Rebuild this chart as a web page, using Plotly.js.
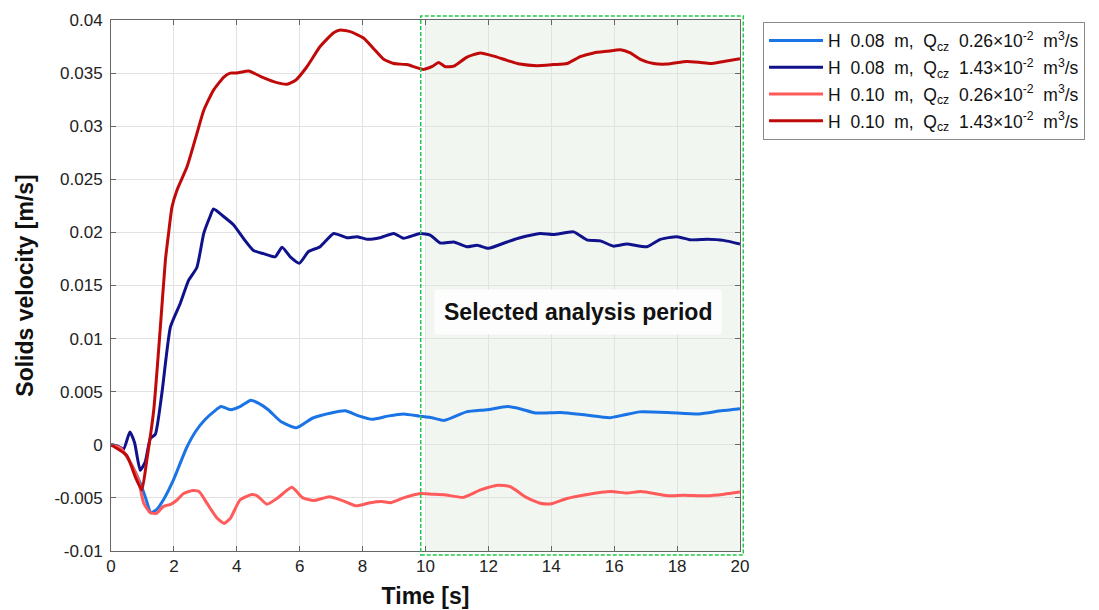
<!DOCTYPE html>
<html>
<head>
<meta charset="utf-8">
<script src="https://cdn.plot.ly/plotly-3.0.1.min.js"></script>
<style>html,body{margin:0;padding:0;background:#fff;}#chart{width:1099px;height:610px;}</style>
</head>
<body>
<div id="chart"></div>
<script>
// Series: H 0.08 m, Q 0.26e-2
const t1 = [0, 0.3, 0.6, 0.93, 1.1, 1.27, 1.45, 1.7, 2.0, 2.4, 2.7, 3.0, 3.3, 3.5, 3.8, 4.1, 4.45, 4.7, 5.0, 5.4, 5.9, 6.4, 7.0, 7.45, 7.9, 8.3, 8.8, 9.3, 9.8, 10.2, 10.6, 11.3, 11.95, 12.6, 13.0, 13.5, 14.3, 15.1, 15.85, 16.3, 16.8, 17.7, 18.7, 19.4, 20];
const v1 = [0, -0.0003, -0.0016, -0.0036, -0.0050, -0.0064, -0.0061, -0.0050, -0.0032, -0.0003, 0.0013, 0.0024, 0.0032, 0.0036, 0.0033, 0.0036, 0.0042, 0.0039, 0.0033, 0.0022, 0.0016, 0.0025, 0.0030, 0.0032, 0.0027, 0.0024, 0.0027, 0.0029, 0.0027, 0.00255, 0.0023, 0.0031, 0.0033, 0.0036, 0.0034, 0.0030, 0.00305, 0.0028, 0.00255, 0.0028, 0.0031, 0.00305, 0.0029, 0.0032, 0.0034];

// Series: H 0.08 m, Q 1.43e-2
const t2 = [0, 0.2, 0.4, 0.6, 0.75, 0.93, 1.09, 1.25, 1.41, 1.62, 1.89, 2.2, 2.47, 2.73, 2.95, 3.15, 3.26, 3.58, 3.9, 4.22, 4.53, 4.85, 5.22, 5.44, 5.7, 5.99, 6.28, 6.65, 7.08, 7.5, 7.82, 8.14, 8.55, 8.99, 9.3, 9.83, 10.15, 10.47, 10.9, 11.32, 11.64, 12.0, 12.59, 12.95, 13.65, 14.07, 14.71, 15.13, 15.56, 15.98, 16.4, 17.04, 17.47, 18.0, 18.42, 18.95, 19.48, 20];
const v2 = [0, -0.0001, -0.0004, 0.0012, 0.0002, -0.0024, -0.0016, 0.0006, 0.0010, 0.0049, 0.0111, 0.0133, 0.0155, 0.0167, 0.0199, 0.0215, 0.0222, 0.0215, 0.0207, 0.0194, 0.0183, 0.0180, 0.0177, 0.0186, 0.0177, 0.0171, 0.0182, 0.01865, 0.0199, 0.0195, 0.0196, 0.01935, 0.0195, 0.0199, 0.01945, 0.0199, 0.01975, 0.0190, 0.0191, 0.01865, 0.0188, 0.0185, 0.0191, 0.01945, 0.0199, 0.0198, 0.02005, 0.0193, 0.0192, 0.0187, 0.0189, 0.01865, 0.01935, 0.0196, 0.0193, 0.01935, 0.01925, 0.0189];

// Series: H 0.10 m, Q 0.26e-2
const t3 = [0, 0.3, 0.6, 0.87, 1.04, 1.25, 1.45, 1.67, 1.9, 2.1, 2.3, 2.6, 2.8, 3.05, 3.37, 3.6, 3.8, 4.1, 4.45, 4.65, 4.96, 5.3, 5.75, 6.1, 6.45, 6.95, 7.4, 7.8, 8.25, 8.6, 8.9, 9.3, 9.8, 10.2, 10.6, 11.2, 11.75, 12.3, 12.7, 13.2, 13.65, 14.0, 14.5, 15.1, 15.9, 16.4, 16.85, 17.7, 18.2, 18.95, 19.5, 20];
const v3 = [0, -0.0003, -0.0016, -0.0033, -0.0055, -0.0064, -0.00645, -0.0058, -0.0056, -0.0052, -0.0046, -0.0043, -0.0044, -0.0055, -0.0069, -0.0074, -0.0069, -0.0052, -0.0047, -0.0048, -0.0056, -0.0050, -0.0040, -0.0050, -0.00525, -0.0049, -0.0053, -0.00575, -0.00545, -0.00535, -0.00545, -0.0050, -0.0046, -0.00465, -0.0047, -0.00495, -0.00425, -0.0038, -0.00395, -0.00495, -0.0055, -0.00555, -0.00505, -0.0047, -0.0044, -0.00455, -0.0044, -0.0048, -0.00475, -0.0048, -0.00465, -0.00445];

// Series: H 0.10 m, Q 1.43e-2
const t4 = [0, 0.5, 0.77, 0.98, 1.14, 1.36, 1.57, 1.73, 1.83, 1.94, 2.1, 2.42, 2.73, 2.95, 3.26, 3.58, 3.79, 4.0, 4.38, 4.75, 5.17, 5.6, 5.86, 6.23, 6.65, 7.08, 7.29, 7.61, 8.03, 8.35, 8.67, 8.99, 9.41, 9.94, 10.2, 10.42, 10.63, 10.9, 11.32, 11.74, 12.17, 12.59, 13.0, 13.54, 14.07, 14.5, 14.92, 15.35, 15.77, 16.2, 16.51, 16.83, 17.25, 17.68, 18.31, 18.74, 19.06, 19.48, 20];
const v4 = [0, -0.0010, -0.0030, -0.00425, -0.0014, 0.0033, 0.0111, 0.0174, 0.0199, 0.0224, 0.0240, 0.0262, 0.0293, 0.0315, 0.0334, 0.0346, 0.0350, 0.0350, 0.0352, 0.0347, 0.0342, 0.03395, 0.0343, 0.0356, 0.0375, 0.0388, 0.03906, 0.0389, 0.0383, 0.0373, 0.0363, 0.0359, 0.0358, 0.03535, 0.0356, 0.0360, 0.0356, 0.03565, 0.0365, 0.0369, 0.0366, 0.0362, 0.03585, 0.0357, 0.0358, 0.0359, 0.03655, 0.0369, 0.03705, 0.0372, 0.0369, 0.0363, 0.0359, 0.03585, 0.0361, 0.0360, 0.0359, 0.0361, 0.03635];

const S = '\u00a0\u00a0';
const seriesNames = [
  'H' + S + '0.08' + S + 'm,' + S + 'Q<sub>cz</sub>' + S + '0.26×10<sup>-2</sup>' + S + 'm<sup>3</sup>/s',
  'H' + S + '0.08' + S + 'm,' + S + 'Q<sub>cz</sub>' + S + '1.43×10<sup>-2</sup>' + S + 'm<sup>3</sup>/s',
  'H' + S + '0.10' + S + 'm,' + S + 'Q<sub>cz</sub>' + S + '0.26×10<sup>-2</sup>' + S + 'm<sup>3</sup>/s',
  'H' + S + '0.10' + S + 'm,' + S + 'Q<sub>cz</sub>' + S + '1.43×10<sup>-2</sup>' + S + 'm<sup>3</sup>/s'
];
const seriesColors = ['#1a74e6', '#10128c', '#ff5b5b', '#c00a0a'];

const xTicks = [0, 2, 4, 6, 8, 10, 12, 14, 16, 18, 20];
const yTickVals = [-0.01, -0.005, 0, 0.005, 0.01, 0.015, 0.02, 0.025, 0.03, 0.035, 0.04];
const yTickText = ['-0.01', '-0.005', '0', '0.005', '0.01', '0.015', '0.02', '0.025', '0.03', '0.035', '0.04'];

const periodStart = 10, periodEnd = 20;
const periodLabel = 'Selected analysis period';

const xs = [t1, t2, t3, t4];
const ys = [v1, v2, v3, v4];
const traces = xs.map((x, i) => ({
  x: x, y: ys[i], type: 'scatter', mode: 'lines',
  name: seriesNames[i], legendgroup: 'g' + i,
  line: {color: seriesColors[i], width: 3, shape: 'spline', smoothing: 0.5}
}));

const FONT = 'Liberation Sans, Arial, Helvetica, sans-serif';
const layout = {
  width: 1099, height: 610,
  margin: {l: 111, r: 359, t: 20, b: 59},
  paper_bgcolor: '#ffffff',
  plot_bgcolor: 'rgba(0,0,0,0)',
  font: {family: FONT, size: 17, color: '#222'},
  showlegend: true,
  legend: {
    x: 1.0366, y: 0.997, xanchor: 'left', yanchor: 'top',
    bgcolor: '#ffffff', bordercolor: '#8a8a8a', borderwidth: 1,
    font: {family: FONT, size: 17.5, color: '#111'},
    traceorder: 'grouped', tracegroupgap: 1, itemwidth: 54
  },
  xaxis: {
    range: [0, 20], tickvals: xTicks, ticktext: xTicks.map(String),
    ticks: 'inside', ticklen: 5, tickcolor: '#666', mirror: 'ticks',
    showline: true, linecolor: '#666', linewidth: 1,
    showgrid: true, gridcolor: '#e2e2e2', zeroline: false,
    tickfont: {family: FONT, size: 17, color: '#222'},
    title: {text: '<b>Time [s]</b>', font: {family: FONT, size: 23, color: '#111'}, standoff: 12}
  },
  yaxis: {
    range: [-0.01, 0.04], tickvals: yTickVals, ticktext: yTickText,
    ticks: 'inside', ticklen: 5, tickcolor: '#666', mirror: 'ticks',
    showline: true, linecolor: '#666', linewidth: 1,
    showgrid: true, gridcolor: '#e2e2e2', zeroline: false,
    tickfont: {family: FONT, size: 17, color: '#222'},
    ticklabelstandoff: 4,
    title: {text: '<b>Solids velocity [m/s]</b>', font: {family: FONT, size: 23, color: '#111'}, standoff: 14}
  },
  shapes: [
    {type: 'rect', xref: 'x', yref: 'paper', x0: periodStart, x1: periodEnd, y0: 0, y1: 1,
     fillcolor: '#f2f6f0', line: {width: 0}, layer: 'below'},
    {type: 'rect', xref: 'paper', yref: 'paper', x0: 0.4924, x1: 1.0052, y0: -0.0075, y1: 1.0075,
     fillcolor: 'rgba(0,0,0,0)', line: {color: '#22c84a', width: 1.5, dash: '4px,2px'}, layer: 'above'}
  ],
  annotations: [
    {x: 14.86, y: 0.0125, xref: 'x', yref: 'y', text: '<b>' + periodLabel + '</b>', showarrow: false,
     font: {family: FONT, size: 23, color: '#111'}, bgcolor: '#fcfdfc', borderpad: 9}
  ]
};

Plotly.newPlot('chart', traces, layout, {displayModeBar: false, staticPlot: true});
</script>
</body>
</html>
